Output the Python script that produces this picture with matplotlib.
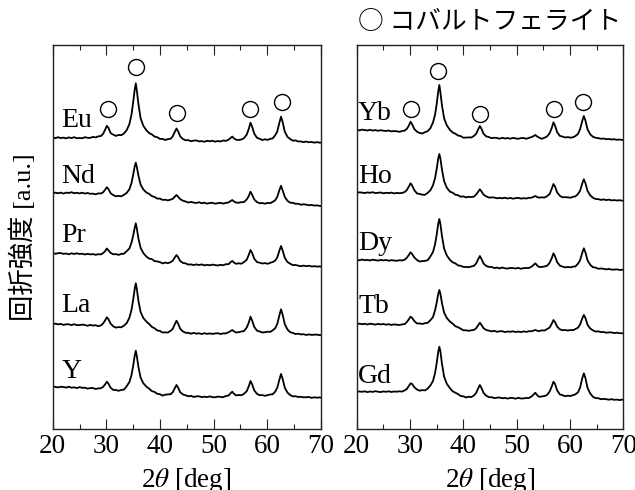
import matplotlib
matplotlib.use("Agg")
import matplotlib.pyplot as plt
import numpy as np
from matplotlib.ticker import MultipleLocator

# ---------------- data ----------------
two_theta = [20.0, 20.5, 21.0, 21.5, 22.0, 22.5, 23.0, 23.5, 24.0, 24.5, 25.0, 25.5, 26.0, 26.5, 27.0, 27.5, 28.0, 28.5, 29.0,
             29.4, 29.8, 30.1, 30.4, 30.8,
             31.3, 31.8, 32.3, 32.8, 33.3, 33.8, 34.3,
             34.7, 35.0, 35.3, 35.5, 35.7, 36.0, 36.4, 36.9, 37.5,
             38.0, 38.5, 39.0, 39.5, 40.0, 40.5, 41.0, 41.5, 42.0,
             42.4, 42.8, 43.1, 43.4, 43.8, 44.3,
             44.8, 45.3, 45.8, 46.3, 46.8, 47.3, 47.8, 48.3, 48.8, 49.3, 49.8, 50.3, 50.8, 51.3, 51.8, 52.3, 52.8,
             53.2, 53.5, 53.8, 54.2,
             54.7, 55.2, 55.7, 56.2,
             56.6, 56.9, 57.2, 57.6, 58.1,
             58.6, 59.1, 59.6, 60.1, 60.6, 61.0, 61.5,
             61.9, 62.3, 62.6, 62.9, 63.3, 63.8,
             64.3, 64.8, 65.3, 65.8, 66.3, 66.8, 67.3, 67.8, 68.3, 68.8, 69.3, 69.8, 70.0]

eu = [5.4, 4.5, 5.5, 4.6, 5.1, 4.3, 5.3, 4.6, 5.5, 4.4, 4.8, 4.4, 5.5, 4.9, 4.8, 5.8, 5.3, 6.3, 6.7,
      8.8, 13.2, 16.9, 15.0, 9.7,
      8.0, 6.8, 7.8, 7.5, 9.3, 12.5, 18.5,
      28.0, 40.0, 53.0, 59.4, 52.0, 38.5, 24.5, 17.0, 12.3,
      9.6, 8.3, 6.1, 5.5, 3.8, 3.8, 2.7, 3.6, 3.9,
      6.4, 11.1, 14.2, 11.4, 6.2, 3.7,
      2.4, 2.6, 1.5, 2.1, 2.3, 1.3, 1.6, 0.9, 1.9, 1.4, 2.0, 1.0, 1.7, 1.2, 2.2, 1.8, 3.0,
      4.8, 6.1, 4.4, 3.0,
      2.7, 3.2, 4.6, 8.1,
      14.1, 20.0, 16.2, 9.1, 5.0,
      3.9, 2.7, 3.4, 2.8, 3.9, 4.2, 7.3,
      11.3, 20.2, 26.0, 20.6, 11.1, 5.8,
      3.7, 2.0, 2.3, 1.2, 1.3, 0.5, 1.2, 0.4, 0.8, 0.0, 0.6, 0.0, 0.1]

nd = [12.3, 13.4, 12.7, 13.4, 12.4, 13.4, 13.0, 13.8, 12.8, 13.2, 12.6, 13.3, 12.4, 13.0, 12.2, 12.4, 11.7, 12.6, 12.5,
      13.7, 16.4, 18.8, 16.9, 12.8,
      10.9, 9.7, 10.1, 9.7, 11.2, 13.1, 16.6,
      23.0, 30.8, 39.7, 43.3, 38.9, 30.3, 21.4, 16.6, 13.4,
      12.1, 9.9, 9.1, 7.4, 7.4, 6.1, 6.3, 5.6, 6.4,
      7.2, 9.4, 11.0, 9.2, 6.8, 5.3,
      4.5, 3.4, 4.1, 3.4, 3.0, 3.8, 2.8, 3.3, 2.4, 3.0, 3.2, 2.3, 2.8, 3.2, 2.4, 3.1, 3.5,
      5.0, 6.0, 4.6, 3.4,
      3.3, 3.8, 4.0, 6.6,
      10.1, 14.3, 11.4, 6.6, 3.9,
      2.8, 3.0, 2.3, 3.1, 2.9, 4.0, 5.7,
      9.2, 16.0, 20.3, 15.6, 9.1, 5.2,
      3.3, 3.2, 2.2, 2.3, 1.3, 1.7, 1.4, 0.7, 1.1, 0.4, 0.7, 0.1, 0.1]

pr = [13.7, 12.9, 13.5, 13.7, 12.8, 13.2, 12.4, 13.4, 12.7, 13.4, 12.7, 13.0, 12.2, 12.9, 12.3, 12.6, 11.9, 12.5, 12.3,
      13.6, 15.7, 18.2, 16.3, 13.8,
      12.4, 12.6, 11.8, 12.8, 13.0, 15.5, 18.2,
      24.0, 30.7, 39.0, 43.4, 38.0, 28.0, 18.9, 13.7, 10.0,
      8.1, 7.6, 5.6, 5.3, 4.6, 3.3, 4.1, 3.5, 4.5,
      6.0, 9.4, 11.7, 9.5, 5.6, 3.8,
      3.3, 2.1, 2.3, 1.6, 2.3, 1.7, 2.3, 1.3, 1.9, 1.4, 2.1, 1.6, 1.2, 1.9, 1.4, 2.5, 2.5,
      4.6, 5.8, 4.2, 2.9,
      3.4, 3.0, 4.7, 7.0,
      12.1, 16.7, 13.8, 8.0, 4.7,
      4.0, 3.2, 3.6, 2.9, 3.9, 4.6, 6.0,
      9.4, 16.2, 20.7, 16.3, 8.9, 4.7,
      3.0, 1.5, 1.8, 1.0, 0.5, 1.1, 0.5, 1.0, 0.2, 0.5, 0.1, 0.3, 0.1]

la = [10.7, 11.4, 10.6, 11.1, 10.1, 10.7, 10.7, 9.9, 10.8, 9.9, 9.9, 10.4, 10.0, 9.2, 10.1, 9.4, 9.8, 8.8, 9.6,
      11.5, 14.8, 17.7, 15.8, 11.4,
      8.6, 7.4, 7.9, 7.7, 9.4, 11.8, 17.2,
      25.1, 34.7, 46.0, 51.7, 46.0, 33.9, 23.0, 17.1, 13.3,
      11.0, 8.1, 6.7, 4.6, 4.1, 2.5, 2.6, 2.5, 4.2,
      6.2, 11.0, 14.3, 11.3, 6.1, 3.5,
      2.2, 2.2, 1.3, 2.1, 1.4, 1.7, 1.0, 1.8, 1.1, 1.6, 1.1, 1.5, 1.8, 1.0, 1.6, 1.6, 2.7,
      4.0, 5.0, 3.7, 2.5,
      2.8, 3.5, 4.0, 7.5,
      12.7, 18.3, 14.6, 8.1, 4.4,
      3.5, 2.5, 2.8, 3.3, 3.1, 4.5, 6.7,
      11.1, 19.8, 25.7, 20.3, 10.8, 5.5,
      2.8, 2.1, 1.0, 1.3, 0.6, 0.8, 0.0, 0.6, 0.1, 0.3, 0.4, -0.1, 0.0]

y_ = [11.5, 10.7, 10.3, 11.0, 10.7, 10.1, 11.0, 10.0, 10.4, 9.6, 10.6, 9.9, 10.0, 9.1, 9.6, 9.7, 8.7, 9.3, 9.5,
      10.8, 13.5, 16.0, 14.0, 10.0,
      7.8, 7.7, 6.9, 7.8, 8.1, 11.5, 15.6,
      22.6, 31.5, 42.0, 47.0, 41.5, 30.5, 20.1, 14.5, 11.0,
      9.0, 6.6, 5.8, 3.9, 3.5, 2.1, 3.0, 3.3, 3.5,
      5.5, 9.7, 12.7, 10.0, 5.4, 3.2,
      2.4, 1.4, 1.8, 0.8, 1.3, 1.4, 0.6, 1.0, 0.6, 1.3, 0.6, 0.4, 1.1, 0.8, 0.5, 1.7, 2.2,
      4.5, 6.0, 4.0, 2.3,
      2.7, 2.4, 4.0, 6.5,
      11.7, 16.7, 13.5, 7.4, 3.9,
      2.5, 2.6, 1.9, 2.5, 3.3, 3.3, 6.0,
      10.0, 18.2, 23.7, 18.8, 10.0, 5.1,
      2.7, 1.3, 1.5, 0.7, 0.9, 0.3, 0.5, 0.7, -0.2, 0.4, 0.0, 0.3, 0.1]

yb = [10.3, 9.6, 10.4, 9.9, 9.5, 10.2, 9.4, 9.9, 9.2, 9.8, 9.3, 9.0, 9.5, 8.6, 9.0, 8.7, 8.2, 8.9, 9.4,
      11.1, 14.6, 18.3, 15.7, 11.0,
      8.3, 7.0, 6.5, 7.8, 8.8, 11.6, 17.4,
      25.4, 35.9, 49.0, 55.0, 47.5, 34.3, 21.6, 14.6, 10.0,
      7.5, 6.3, 4.5, 3.9, 2.3, 2.4, 2.6, 2.5, 4.1,
      6.2, 10.8, 14.0, 11.2, 6.2, 3.6,
      2.9, 1.8, 2.3, 2.0, 1.3, 2.2, 1.5, 1.9, 1.3, 2.1, 1.6, 1.2, 1.9, 2.0, 1.2, 2.1, 2.9,
      4.0, 5.0, 3.7, 2.4,
      1.2, 2.2, 3.6, 6.9,
      12.3, 17.7, 14.3, 7.8, 4.1,
      3.4, 2.5, 2.9, 2.3, 2.8, 3.9, 6.0,
      10.8, 19.1, 24.0, 19.4, 10.6, 5.6,
      3.3, 2.2, 1.9, 1.2, 1.5, 0.8, 1.0, 0.5, 0.8, 0.2, 0.5, 0.0, 0.1]

ho = [7.7, 8.4, 8.1, 7.6, 8.3, 7.9, 8.5, 7.6, 7.9, 8.2, 7.4, 7.9, 7.6, 8.1, 7.3, 7.8, 7.5, 7.7, 8.7,
      10.7, 14.3, 17.4, 15.1, 10.6,
      7.3, 6.7, 6.0, 5.9, 7.8, 10.3, 15.3,
      22.7, 31.8, 42.5, 46.7, 42.0, 30.8, 19.4, 13.0, 9.0,
      8.0, 6.0, 5.5, 4.0, 4.3, 3.3, 3.9, 3.6, 4.1,
      6.1, 9.1, 11.4, 9.3, 6.0, 4.3,
      3.1, 3.3, 3.2, 2.4, 2.8, 2.4, 3.0, 2.2, 2.8, 2.0, 2.6, 2.8, 2.1, 2.5, 2.2, 2.9, 3.0,
      4.0, 4.7, 3.8, 3.0,
      3.4, 3.1, 4.5, 6.8,
      12.3, 16.7, 14.1, 8.2, 4.9,
      3.4, 3.5, 3.4, 2.9, 4.0, 4.2, 6.7,
      10.0, 17.2, 21.4, 17.5, 9.7, 5.3,
      3.0, 1.7, 1.6, 0.8, 1.3, 0.6, 1.1, 0.3, 0.6, 0.2, 0.5, 0.0, 0.1]

dy = [10.2, 9.7, 10.5, 9.8, 10.1, 9.5, 10.3, 9.9, 9.4, 10.1, 9.6, 10.0, 9.3, 9.8, 9.5, 9.2, 9.8, 9.5, 10.3,
      12.2, 15.2, 17.7, 15.9, 12.6,
      10.0, 8.5, 8.9, 9.1, 9.8, 13.4, 17.9,
      25.8, 35.3, 46.5, 51.0, 46.0, 33.7, 21.3, 14.5, 10.0,
      7.7, 6.6, 4.6, 4.2, 3.1, 3.0, 2.8, 3.5, 4.2,
      6.5, 10.9, 14.0, 11.1, 6.4, 4.0,
      3.1, 3.0, 2.0, 2.4, 1.6, 2.5, 1.7, 1.4, 2.1, 1.9, 1.5, 2.1, 1.2, 1.9, 2.0, 2.0, 3.4,
      5.2, 6.7, 4.8, 3.0,
      3.0, 3.5, 4.2, 7.3,
      12.1, 16.7, 13.6, 7.8, 4.4,
      3.4, 2.6, 3.1, 2.6, 3.4, 3.5, 6.3,
      9.8, 17.2, 21.7, 17.5, 9.6, 5.2,
      2.8, 2.4, 1.2, 1.5, 1.2, 0.6, 1.1, 0.4, 0.4, 0.7, 0.0, 0.3, 0.1]

tb = [9.0, 9.7, 9.1, 9.5, 8.8, 9.6, 9.2, 8.7, 9.4, 8.9, 9.3, 8.6, 9.1, 8.4, 8.9, 8.6, 8.3, 8.9, 9.2,
      11.2, 14.2, 16.6, 15.4, 12.3,
      9.8, 9.9, 9.3, 10.1, 10.4, 13.0, 16.1,
      23.1, 30.6, 39.5, 43.3, 39.5, 29.9, 20.6, 15.3, 11.6,
      9.7, 7.1, 6.1, 4.6, 3.0, 3.0, 2.5, 3.0, 3.4,
      5.0, 8.2, 10.6, 8.4, 5.0, 3.3,
      2.7, 1.9, 2.5, 1.5, 2.0, 2.1, 1.2, 1.8, 1.5, 2.0, 1.3, 1.7, 1.2, 1.9, 1.4, 2.1, 2.0,
      2.8, 3.3, 2.7, 2.1,
      3.0, 2.7, 4.2, 5.8,
      9.8, 13.3, 11.1, 6.6, 4.0,
      3.1, 3.3, 2.8, 3.3, 3.1, 4.2, 5.6,
      8.8, 14.9, 18.3, 15.3, 8.4, 4.8,
      3.0, 1.7, 2.0, 1.2, 1.3, 0.6, 0.9, 0.9, 0.2, 0.6, 0.1, 0.0, 0.1]

gd = [8.0, 8.6, 8.2, 8.7, 7.9, 8.5, 8.1, 8.8, 8.3, 7.9, 8.6, 8.2, 8.7, 8.0, 8.5, 8.3, 8.7, 8.4, 9.6,
      11.0, 14.2, 16.7, 16.0, 12.8,
      10.5, 9.3, 9.9, 9.6, 11.3, 14.4, 18.9,
      27.0, 36.9, 48.5, 53.3, 48.5, 35.9, 23.2, 16.2, 11.7,
      8.7, 7.3, 5.9, 4.0, 3.7, 2.5, 3.3, 2.9, 4.6,
      7.0, 11.9, 15.0, 12.0, 7.0, 4.3,
      2.8, 2.8, 1.9, 2.3, 2.5, 1.7, 2.1, 1.4, 2.1, 2.0, 1.3, 2.2, 1.5, 1.6, 2.0, 2.0, 3.6,
      5.6, 7.3, 5.1, 3.2,
      3.5, 4.0, 5.0, 8.6,
      13.8, 18.3, 16.0, 9.5, 5.6,
      4.8, 3.8, 4.3, 4.0, 4.9, 5.6, 7.7,
      12.4, 21.7, 26.7, 21.9, 12.0, 6.5,
      3.2, 1.9, 1.8, 0.8, 1.1, 0.8, 0.3, 0.8, 0.2, 0.4, -0.1, 0.4, 0.1]

left_names = ["Eu", "Nd", "Pr", "La", "Y"]
right_names = ["Yb", "Ho", "Dy", "Tb", "Gd"]
left_offsets = [286.6, 223.3, 162.6, 94.3, 31.6]
right_offsets = [289.3, 228.6, 159.3, 96.0, 29.3]
left_label_y = [302.3, 246.3, 187.3, 117.3, 51.3]
right_label_y = [309.3, 246.3, 179.3, 116.3, 46.3]

# cobalt ferrite peak markers (open circles)
left_circle_x = [30.3, 35.5, 43.1, 56.9, 62.7]
left_circle_y = [320.3, 362.0, 316.6, 320.3, 327.3]
right_circle_x = [30.2, 35.3, 43.1, 57.0, 62.5]
right_circle_y = [320.3, 358.3, 315.3, 320.3, 327.3]

x_ticks = [20, 30, 40, 50, 60, 70]

# ---------------- drawing ----------------
SERIF = ["Liberation Serif", "DejaVu Serif"]
plt.rcParams["font.family"] = SERIF
plt.rcParams["mathtext.fontset"] = "stix"

W, H = 635.0, 490.0
fig = plt.figure(figsize=(6.35, 4.9), dpi=100)
ax_bottom_px, ax_top_px = 429.3, 45.5
axL = fig.add_axes([52.7 / W, 1 - ax_bottom_px / H, (320.7 - 52.7) / W, (ax_bottom_px - ax_top_px) / H])
axR = fig.add_axes([356.7 / W, 1 - ax_bottom_px / H, (623.3 - 356.7) / W, (ax_bottom_px - ax_top_px) / H])

x = np.array(two_theta)


def draw_panel(ax, names, traces, offsets, label_y, label_x, cx, cy):
    for name, tr, off, ly in zip(names, traces, offsets, label_y):
        t = np.array(tr, dtype=float)
        n = min(len(t), len(x))
        ax.plot(x[:n], t[:n] + off, color="black", lw=1.3, solid_joinstyle="round")
        ax.text(label_x, ly, name, fontsize=20, ha="left", va="baseline", color="black")
    ax.plot(cx, cy, "o", mfc="none", mec="black", ms=11.5, mew=1.0, clip_on=False)
    ax.set_xlim(20, 70)
    ax.set_ylim(0, ax_bottom_px - ax_top_px)
    ax.set_xticks(x_ticks)
    ax.set_xticklabels([str(v) for v in x_ticks])
    ax.xaxis.set_minor_locator(MultipleLocator(5))
    ax.set_yticks([])
    ax.tick_params(axis="x", which="both", direction="in", top=True, bottom=True,
                   labelsize=19.5, pad=3.5, width=0.8, color="#222222")
    ax.tick_params(axis="x", which="major", length=7.2)
    ax.tick_params(axis="x", which="minor", length=3.6)
    for lbl in ax.get_xticklabels():
        lbl.set_fontfamily(SERIF)
    for s in ax.spines.values():
        s.set_linewidth(1.0)
        s.set_color("#222222")


draw_panel(axL, left_names, [eu, nd, pr, la, y_], left_offsets, left_label_y, 21.6,
           left_circle_x, left_circle_y)
draw_panel(axR, right_names, [yb, ho, dy, tb, gd], right_offsets, right_label_y, 20.25,
           right_circle_x, right_circle_y)

# x-axis labels
for ax in (axL, axR):
    bb = ax.get_position()
    fig.text((bb.x0 + bb.x1) / 2, 1 - 487 / H, r"2$\theta$ [deg]", fontsize=19.5,
             ha="center", va="baseline")

# y-axis label
fig.text(22.5 / W, 1 - 237 / H, "回折強度 [a.u.]", rotation=90, fontsize=19,
         family=["Liberation Serif", "Noto Sans CJK JP"], ha="center", va="center")

# legend-like title
fig.text(358 / W, 1 - 22 / H, "○ コバルトフェライト", fontsize=18.5,
         family=["Noto Sans CJK JP", "DejaVu Sans"], ha="left", va="center")

fig.savefig("out.png", dpi=100)
